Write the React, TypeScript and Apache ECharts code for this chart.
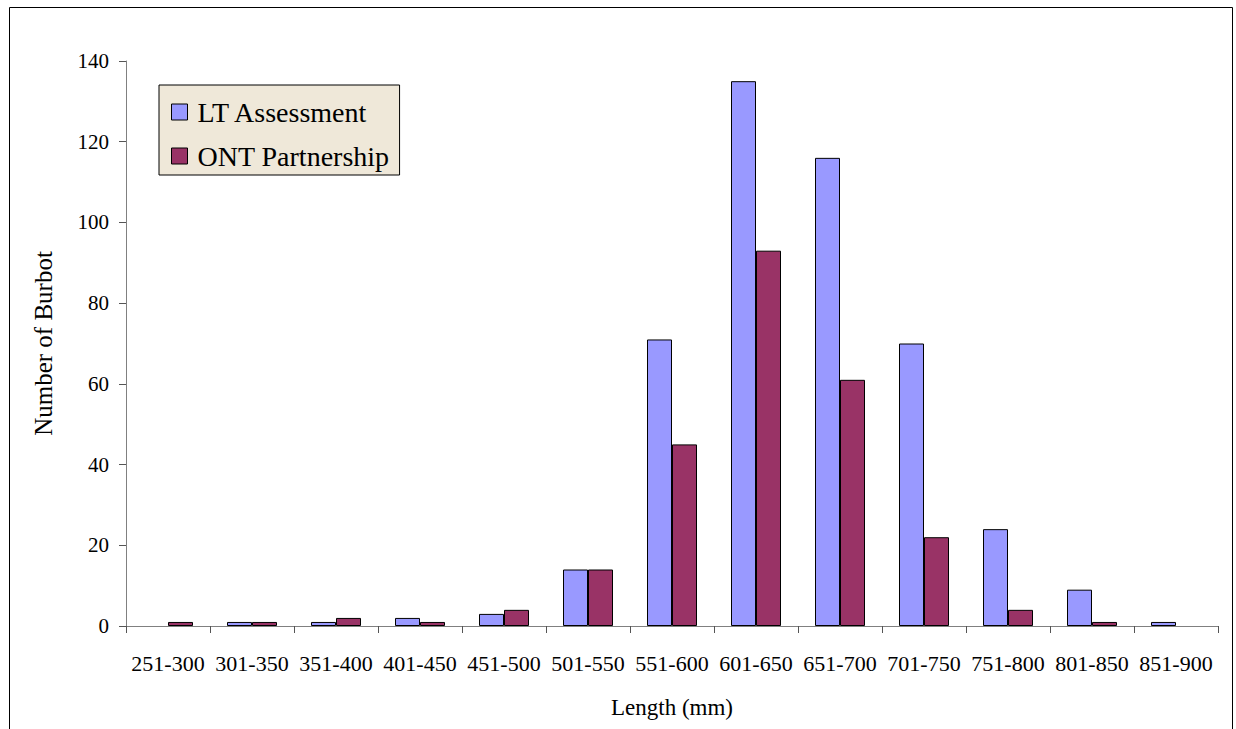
import React, { useEffect, useRef } from "react";
import * as echarts from "echarts";

// Length classes (mm)
const lengthClasses = [
  "251-300", "301-350", "351-400", "401-450", "451-500", "501-550", "551-600",
  "601-650", "651-700", "701-750", "751-800", "801-850", "851-900",
];

// Burbot counts per length class
const ltAssessment = [0, 1, 1, 2, 3, 14, 71, 135, 116, 70, 24, 9, 1];
const ontPartnership = [1, 1, 2, 1, 4, 14, 45, 93, 61, 22, 4, 1, 0];

const yTicks = { min: 0, max: 140, interval: 20 };

const SERIF = "Liberation Serif";

// empty classes get no bar at all (a zero-height bar would still show its outline)
const asBars = (values: number[]) => values.map((v) => (v === 0 ? "-" : v));

export default function App() {
  const ref = useRef<HTMLDivElement>(null);

  useEffect(() => {
    if (!ref.current) return;
    const chart = echarts.init(ref.current, null, { renderer: "svg" });
    chart.setOption({
      animation: false,
      backgroundColor: "#ffffff",
      textStyle: { fontFamily: SERIF, color: "#000" },
      graphic: [
        {
          type: "rect",
          left: 7,
          top: 5,
          shape: { width: 1223, height: 740 },
          style: { fill: "none", stroke: "#000", lineWidth: 1 },
          z: -1,
          silent: true,
        },
      ],
      grid: { left: 126, right: 18, top: 61, bottom: 103, containLabel: false },
      legend: {
        orient: "vertical",
        left: 159,
        top: 85,
        backgroundColor: "#EFE8D9",
        borderColor: "#000",
        borderWidth: 1,
        borderRadius: 0,
        padding: [13, 10, 5, 12],
        itemGap: 16,
        itemWidth: 16,
        itemHeight: 16,
        icon: "rect",
        itemStyle: { borderColor: "#000", borderWidth: 1 },
        textStyle: {
          fontFamily: SERIF,
          fontSize: 28,
          lineHeight: 28,
          color: "#000",
          padding: [0, 0, 0, 5],
        },
        data: ["LT Assessment", "ONT Partnership"],
      },
      xAxis: {
        type: "category",
        data: lengthClasses,
        boundaryGap: true,
        axisLine: { show: true, lineStyle: { color: "#808080", width: 1 } },
        axisTick: { show: true, length: 7, lineStyle: { color: "#555" } },
        axisLabel: { interval: 0, fontFamily: SERIF, fontSize: 22, color: "#000", margin: 26 },
        name: "Length (mm)",
        nameLocation: "middle",
        nameGap: 70,
        nameTextStyle: { fontFamily: SERIF, fontSize: 23, color: "#000" },
      },
      yAxis: {
        type: "value",
        min: yTicks.min,
        max: yTicks.max,
        interval: yTicks.interval,
        splitLine: { show: false },
        axisLine: { show: true, lineStyle: { color: "#808080", width: 1 } },
        axisTick: { show: true, length: 7, lineStyle: { color: "#555" } },
        axisLabel: { fontFamily: SERIF, fontSize: 21, color: "#000", margin: 17 },
        name: "Number of Burbot",
        nameLocation: "middle",
        nameRotate: 90,
        nameGap: 70,
        nameTextStyle: { fontFamily: SERIF, fontSize: 25, color: "#000" },
      },
      series: [
        {
          name: "LT Assessment",
          type: "bar",
          data: asBars(ltAssessment),
          barWidth: 25,
          barGap: "0%",
          itemStyle: { color: "#9999FF", borderColor: "#000", borderWidth: 1 },
        },
        {
          name: "ONT Partnership",
          type: "bar",
          data: asBars(ontPartnership),
          barWidth: 25,
          barGap: "0%",
          itemStyle: { color: "#993366", borderColor: "#000", borderWidth: 1 },
        },
      ],
    });
    return () => chart.dispose();
  }, []);

  return (
    <div
      ref={ref}
      style={{ position: "absolute", left: 0, top: 0, width: 1236, height: 729 }}
    />
  );
}
